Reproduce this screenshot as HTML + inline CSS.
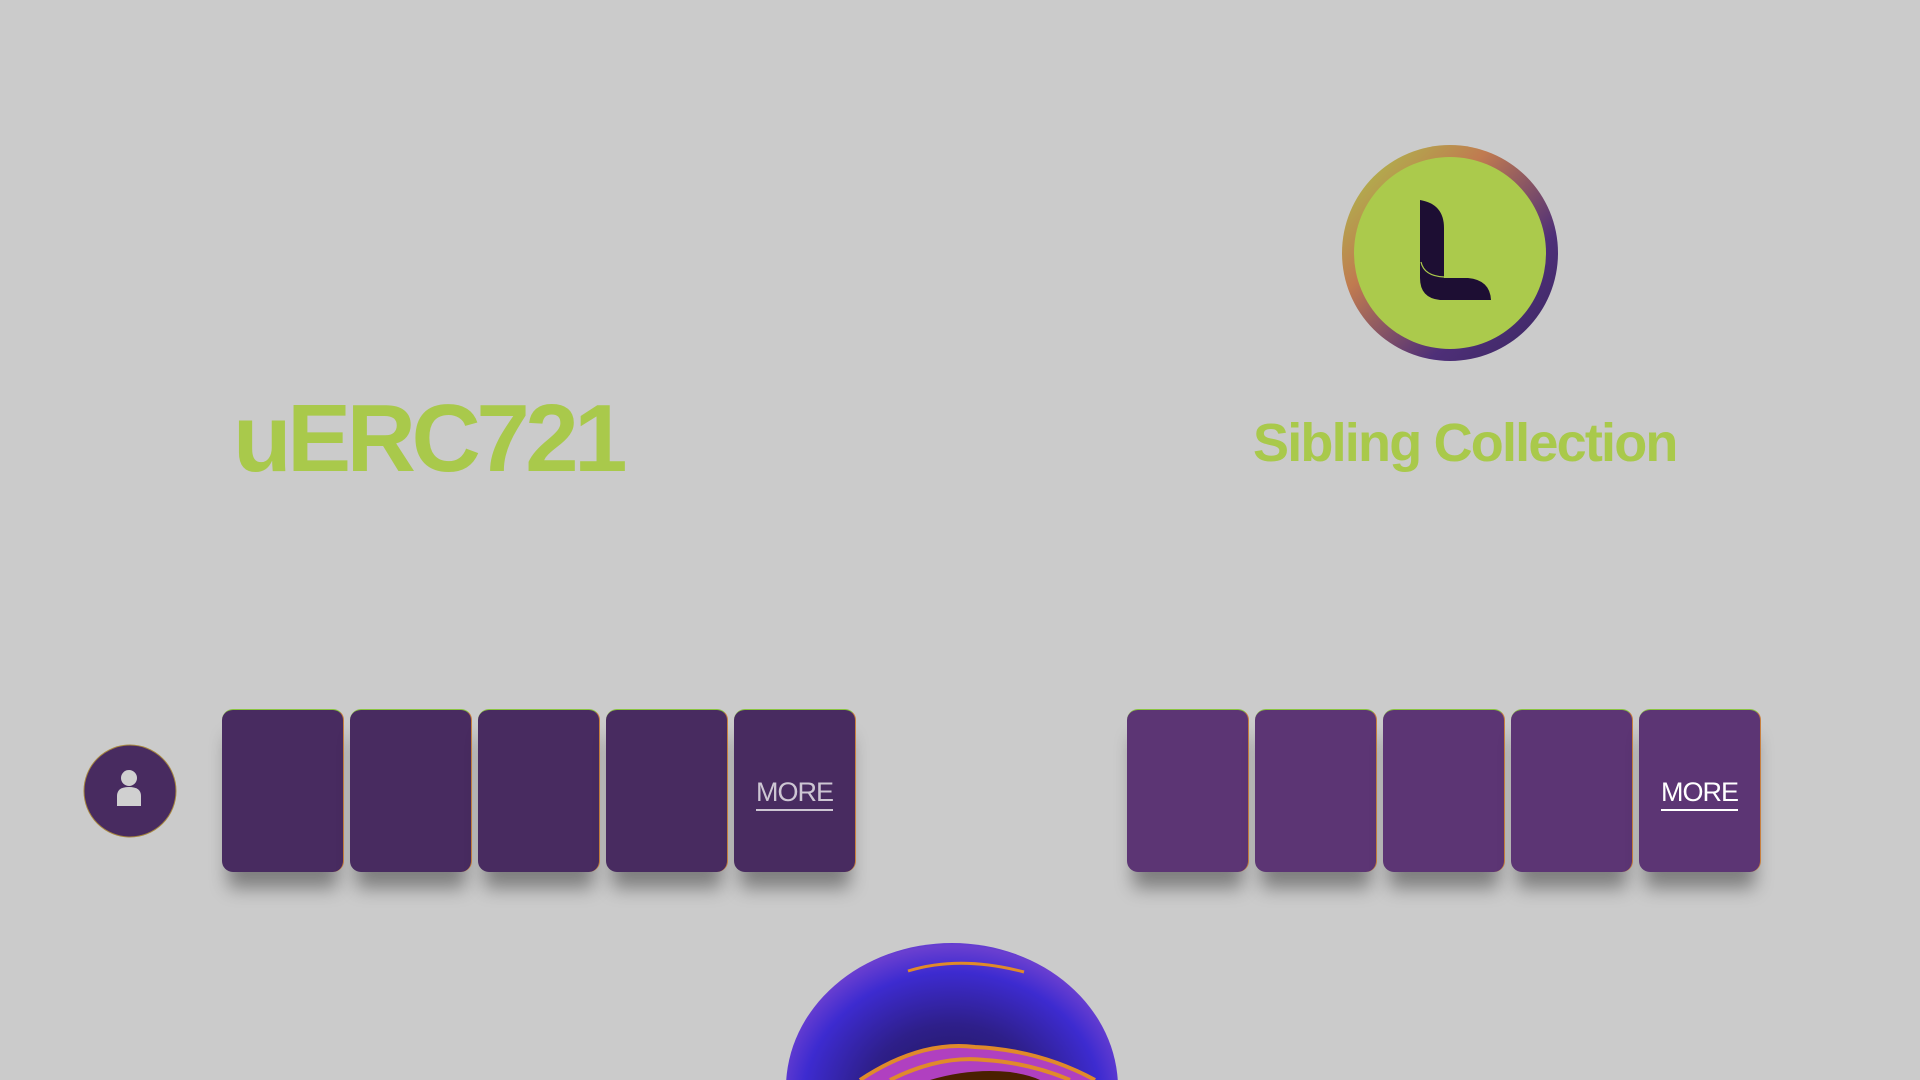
<!DOCTYPE html>
<html><head><meta charset="utf-8"><style>
html,body{margin:0;padding:0;width:1920px;height:1080px;overflow:hidden;background:#cbcbcb;font-family:"Liberation Sans",sans-serif;position:relative;}
.t{position:absolute;color:#a9c94b;font-weight:bold;white-space:nowrap;}
.card{position:absolute;top:709px;width:122px;height:163px;border-radius:11px;box-shadow:0 22px 18px -6px rgba(0,0,0,.38);border-top:1.5px solid #8ac43f;border-right:1.5px solid #c9803f;box-sizing:border-box;}
.l{background:#482b60;}
.r{background:#5c3574;}
.more{position:absolute;left:0;right:0;top:67px;text-align:center;font-size:27px;font-weight:300;letter-spacing:-1px;}
.more span{border-bottom:2px solid currentColor;padding-bottom:2px;}
#wrap{position:absolute;left:0;top:0;width:1920px;height:1080px;overflow:hidden;}
</style></head><body><div id="wrap">
<div class="t" style="left:233px;top:384px;font-size:96px;letter-spacing:-4.5px;">uERC721</div>
<div class="t" style="left:1253px;top:412px;font-size:54px;letter-spacing:-1.8px;">Sibling Collection</div>

<svg style="position:absolute;left:0;top:0;overflow:hidden" width="1920" height="1080">
<defs>
<linearGradient id="ring" x1="0" y1="0" x2="1" y2="1">
<stop offset="0" stop-color="#a9c94b"/><stop offset="0.35" stop-color="#c07a50"/><stop offset="0.7" stop-color="#4e2f78"/><stop offset="1" stop-color="#3a2660"/>
</linearGradient>
<radialGradient id="blob" cx="0.5" cy="0.55" r="0.6">
<stop offset="0" stop-color="#1d1450"/><stop offset="0.45" stop-color="#2e1f8a"/><stop offset="0.75" stop-color="#3d2bd0"/><stop offset="0.9" stop-color="#6a3fd0"/><stop offset="1" stop-color="#3a2bc8"/>
</radialGradient>
</defs>
<circle cx="1450" cy="253" r="108" fill="url(#ring)"/>
<circle cx="1450" cy="253" r="96" fill="#abca4c"/>
<path d="M1420 200 Q1444 204 1444 228 L1444 278 L1468 278 Q1490 280 1491 300 L1440 300 Q1420 298 1420 278 Z" fill="#1d0e33"/>
<path d="M1421 262 Q1424 276 1444 277" stroke="#abca4c" stroke-width="1.2" fill="none"/>
<circle cx="130" cy="791" r="46" fill="#482b60" stroke="#a6863f" stroke-width="1"/>
<circle cx="129" cy="778" r="8" fill="#d0d0d0"/>
<path d="M117 806 L117 796 Q117 787 129 787 Q141 787 141 796 L141 806 Z" fill="#d0d0d0"/>
<ellipse cx="952" cy="1088" rx="166" ry="145" fill="url(#blob)"/>
<path d="M908 971 Q960 955 1024 972" stroke="#e08a2a" stroke-width="3" fill="none"/>
<path d="M860 1080 Q920 1040 975 1047 Q1040 1050 1095 1080 Z" fill="#b040c0"/>
<path d="M860 1080 Q920 1040 975 1047 Q1040 1050 1095 1080" stroke="#e08a2a" stroke-width="4" fill="none"/>
<path d="M890 1080 Q940 1055 985 1060 Q1030 1063 1070 1080" stroke="#e08a2a" stroke-width="4" fill="none"/>
<path d="M930 1080 Q970 1068 1010 1072 Q1030 1075 1040 1080 Z" fill="#4a2000"/>
</svg>

<div class="card l" style="left:222px"></div>
<div class="card l" style="left:350px"></div>
<div class="card l" style="left:478px"></div>
<div class="card l" style="left:606px"></div>
<div class="card l" style="left:734px"><div class="more" style="color:#cdc6d3"><span>MORE</span></div></div>

<div class="card r" style="left:1127px"></div>
<div class="card r" style="left:1255px"></div>
<div class="card r" style="left:1383px"></div>
<div class="card r" style="left:1511px"></div>
<div class="card r" style="left:1639px"><div class="more" style="color:#fff"><span>MORE</span></div></div>
</div></body></html>
